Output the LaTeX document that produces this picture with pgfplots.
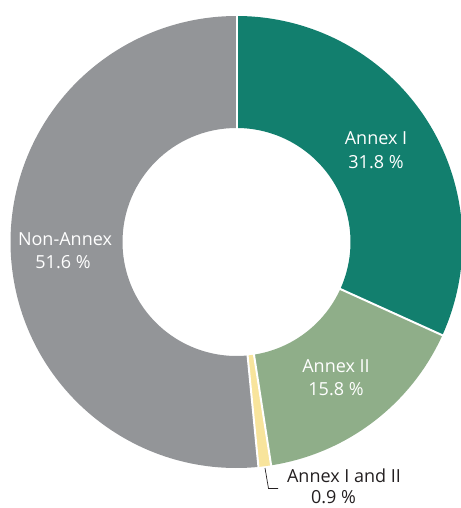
\documentclass[border=0pt]{standalone}
\usepackage{fontspec}
\setmainfont{Open Sans}
\usepackage{pgfplots}
\pgfplotsset{compat=1.18}
\definecolor{annexI}{HTML}{127F6E}
\definecolor{annexII}{HTML}{8FAE89}
\definecolor{annexIII}{HTML}{F8E49C}
\definecolor{nonannex}{HTML}{939598}
\definecolor{txt}{HTML}{231F20}
\newcommand\cx{236.5}
\newcommand\cy{266}
\newcommand\Ro{226}
\newcommand\Ri{114}
% slice from angle #1 to angle #2 (clockwise), colour #3
\newcommand\slice[3]{%
  \fill[#3] (axis cs:{\cx+\Ro*cos(#1)},{\cy+\Ro*sin(#1)})
    arc[start angle=#1, end angle=#2, radius=\Ro pt]
    -- (axis cs:{\cx+\Ri*cos(#2)},{\cy+\Ri*sin(#2)})
    arc[start angle=#2, end angle=#1, radius=\Ri pt] -- cycle;}
\newcommand\sep[1]{%
  \draw[white, line width=2pt] (axis cs:{\cx+(\Ri-2)*cos(#1)},{\cy+(\Ri-2)*sin(#1)})
    -- (axis cs:{\cx+(\Ro+2)*cos(#1)},{\cy+(\Ro+2)*sin(#1)});}
\begin{document}
\begin{tikzpicture}
\useasboundingbox (0,0) rectangle (460pt,508pt);
% data (per cent)
\def\vA{31.8}% Annex I
\def\vB{15.8}% Annex II
\def\vC{0.9}%  Annex I and II
\def\vD{51.6}% Non-Annex
\pgfmathsetmacro\tot{\vA+\vB+\vC+\vD}
\pgfmathsetmacro\k{360/\tot}
\pgfmathsetmacro\aA{90}
\pgfmathsetmacro\aB{\aA-\k*\vA}
\pgfmathsetmacro\aC{\aB-\k*\vB}
\pgfmathsetmacro\aD{\aC-\k*\vC}
\pgfmathsetmacro\aE{\aD-\k*\vD}
\begin{axis}[x=1pt, y=1pt, xmin=0, xmax=460, ymin=0, ymax=508,
  hide axis, clip=false, scale only axis, anchor=origin, at={(0,0)}]
\slice{\aA}{\aB}{annexI}
\slice{\aB}{\aC}{annexII}
\slice{\aC}{\aD}{annexIII}
\slice{\aD}{\aE}{nonannex}
\sep{\aA}\sep{\aB}\sep{\aC}\sep{\aD}
\begin{scope}[every node/.style={font=\fontsize{18}{22}\selectfont, anchor=base, inner sep=0pt}]
\node[white] at (axis cs:376,363.7) {Annex I};
\node[white] at (axis cs:376,339.7) {31.8 \%};
\node[white] at (axis cs:336,135.5) {Annex II};
\node[white] at (axis cs:336,112.5) {15.8 \%};
\node[white] at (axis cs:65,262.3) {Non-Annex};
\node[white] at (axis cs:63,239) {51.6 \%};
\node[txt] at (axis cs:344,26) {Annex I and II};
\node[txt] at (axis cs:333.5,5) {0.9 \%};
\end{scope}
\draw[txt, line width=0.7pt] (axis cs:265,40) -- (axis cs:268.5,19.5) -- (axis cs:278,19.5);
\end{axis}
\end{tikzpicture}
\end{document}
